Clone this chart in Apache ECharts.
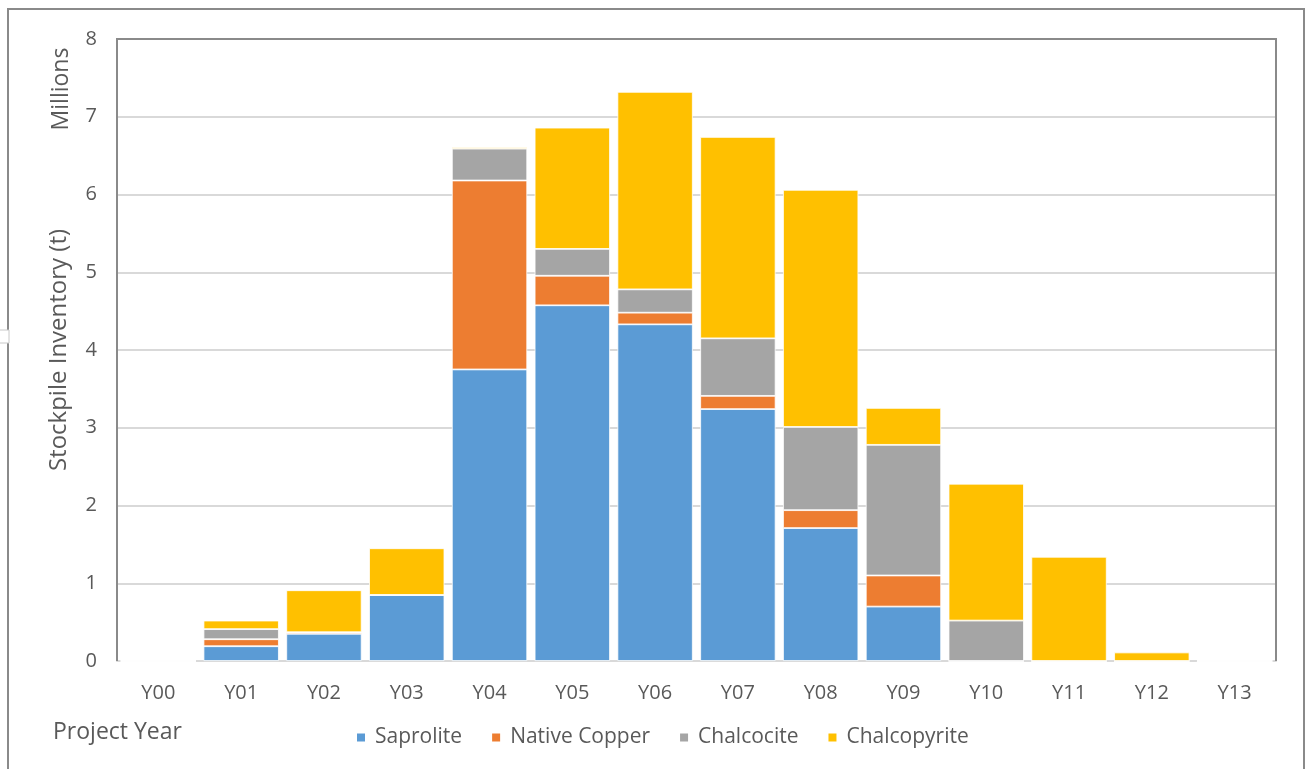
<!DOCTYPE html>
<html>
<head>
<meta charset="utf-8">
<script src="https://cdn.jsdelivr.net/npm/echarts@6/dist/echarts.min.js"></script>
<style>
html,body{margin:0;padding:0;background:#fff;}
#chart{width:1306px;height:769px;}
</style>
</head>
<body>
<div id="chart"></div>
<script>
const categories = ['Y00','Y01','Y02','Y03','Y04','Y05','Y06','Y07','Y08','Y09','Y10','Y11','Y12','Y13'];
const saprolite    = [0, 0.19, 0.35, 0.85, 3.75, 4.575, 4.33, 3.24, 1.71, 0.70, 0, 0, 0, 0];
const nativeCopper = [0, 0.09, 0.02, 0, 2.43, 0.38, 0.15, 0.17, 0.23, 0.40, 0, 0, 0, 0];
const chalcocite   = [0, 0.13, 0, 0, 0.41, 0.345, 0.30, 0.74, 1.07, 1.68, 0.52, 0, 0, 0];
const chalcopyrite = [0, 0.11, 0.54, 0.60, 0.02, 1.56, 2.54, 2.59, 3.05, 0.475, 1.76, 1.34, 0.11, 0];
const seriesNames = ['Saprolite','Native Copper','Chalcocite','Chalcopyrite'];
const colors = ['#5B9BD5','#ED7D31','#A5A5A5','#FFC000'];
const yTicks = [0,1,2,3,4,5,6,7,8];

const FONT = 'Open Sans';
const TXT = '#595959';
const FRAME = '#8a8a8a';
const chart = echarts.init(document.getElementById('chart'), null, {renderer:'canvas'});
const data = [saprolite, nativeCopper, chalcocite, chalcopyrite];
chart.setOption({
  animation:false,
  textStyle:{fontFamily:FONT},
  grid:{left:117, right:30, top:39, bottom:108},
  legend:{
    data:seriesNames, top:727, left:355, padding:0, itemWidth:10, itemHeight:10, itemGap:28,
    icon:'rect', textStyle:{color:TXT, fontSize:21, fontFamily:FONT, padding:[0,0,0,4]}
  },
  xAxis:{
    type:'category', data:categories,
    axisLine:{lineStyle:{color:'#d9d9d9', width:2}},
    axisTick:{show:false},
    axisLabel:{color:TXT, fontSize:20, margin:22, fontFamily:FONT}
  },
  yAxis:{
    type:'value', min:yTicks[0], max:yTicks[yTicks.length-1], interval:1,
    name:'Stockpile Inventory (t)', nameLocation:'middle', nameGap:46,
    nameTextStyle:{color:TXT, fontSize:24, fontFamily:FONT},
    axisLine:{show:false}, axisTick:{show:false},
    axisLabel:{color:TXT, fontSize:20, margin:20, fontFamily:FONT},
    splitLine:{lineStyle:{color:'#d9d9d9', width:2}}
  },
  series: seriesNames.map((n,i)=>({
    name:n, type:'bar', stack:'total', data:data[i], barCategoryGap:'9%',
    itemStyle:{color:colors[i], borderColor:'#ffffff', borderWidth:0.8}
  })),
  graphic:[
    {type:'rect', shape:{x:8, y:9, width:1296, height:780}, style:{fill:'none', stroke:FRAME, lineWidth:2}, z:-1},
    {type:'rect', shape:{x:-2, y:330, width:11, height:13}, style:{fill:'#fff', stroke:'#c8c8c8', lineWidth:1}, z:-1},
    {type:'polyline', shape:{points:[[117,661],[117,39],[1276,39],[1276,661]]}, style:{fill:'none', stroke:FRAME, lineWidth:2}, z:100},
    {type:'text', x:61, y:89, rotation:Math.PI/2, style:{text:'Millions', fill:TXT, font:'23px "'+FONT+'"', align:'center', verticalAlign:'middle'}},
    {type:'text', x:53, y:732, style:{text:'Project Year', fill:TXT, font:'23px "'+FONT+'"', align:'left', verticalAlign:'middle'}}
  ]
});
</script>
</body>
</html>
